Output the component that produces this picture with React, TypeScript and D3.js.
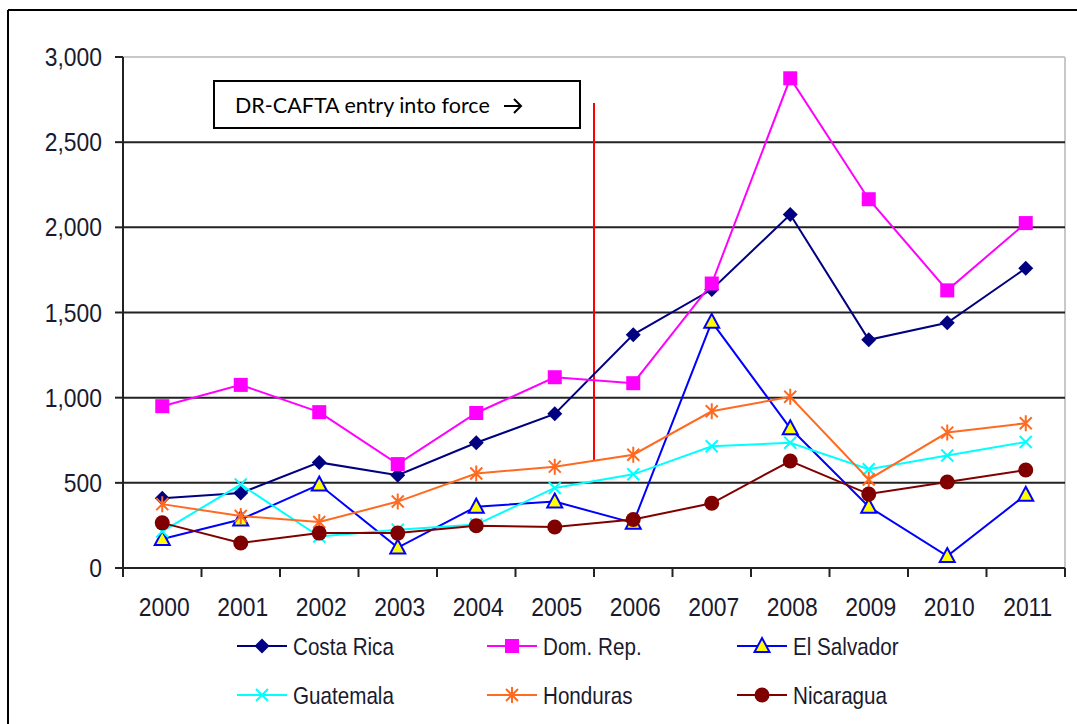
import React from "react";
import * as d3 from "d3";

const years = ["2000", "2001", "2002", "2003", "2004", "2005", "2006", "2007", "2008", "2009", "2010", "2011"];
const costaRica = [410, 440, 620, 545, 735, 905, 1370, 1635, 2075, 1340, 1440, 1760];
const domRep = [950, 1075, 915, 610, 910, 1120, 1085, 1670, 2875, 2165, 1630, 2025];
const elSalvador = [170, 285, 490, 120, 360, 390, 265, 1445, 820, 360, 70, 430];
const guatemala = [215, 490, 185, 225, 255, 470, 550, 715, 735, 580, 660, 740];
const honduras = [375, 305, 270, 390, 555, 595, 665, 920, 1005, 520, 795, 850];
const nicaragua = [265, 147, 205, 205, 248, 241, 285, 380, 628, 434, 505, 575];
const yTicks = [0, 500, 1000, 1500, 2000, 2500, 3000];
const note = "DR-CAFTA entry into force";

const series = [
  { name: "Costa Rica", values: costaRica, color: "#000080", marker: "diamond" },
  { name: "Dom. Rep.", values: domRep, color: "#ff00ff", marker: "square" },
  { name: "El Salvador", values: elSalvador, color: "#0000ff", marker: "triangle" },
  { name: "Guatemala", values: guatemala, color: "#00ffff", marker: "x" },
  { name: "Honduras", values: honduras, color: "#ff6a21", marker: "star" },
  { name: "Nicaragua", values: nicaragua, color: "#800000", marker: "circle" },
];

const W = 1077;
const H = 724;
const plot = { left: 123, right: 1065, top: 57, bottom: 568 };

const x = d3.scaleBand<string>().domain(years).range([plot.left, plot.right]);
const y = d3.scaleLinear().domain([0, 3000]).range([plot.bottom, plot.top]);

const font = "'Liberation Sans', Arial, sans-serif";

// marker drawing, centred on 0,0
function Marker({ type, color }: { type: string; color: string }) {
  if (type === "diamond") {
    return <path d="M0,-7.5 L7.5,0 L0,7.5 L-7.5,0 Z" fill={color} />;
  }
  if (type === "square") {
    return <rect x={-7} y={-7} width={14} height={14} fill={color} />;
  }
  if (type === "triangle") {
    return <path d="M0,-8 L7.5,6 L-7.5,6 Z" fill="#ffff00" stroke={color} strokeWidth={2} />;
  }
  if (type === "x") {
    return <path d="M-6,-6 L6,6 M-6,6 L6,-6" stroke={color} strokeWidth={2} />;
  }
  if (type === "star") {
    return <path d="M-6,-6 L6,6 M-6,6 L6,-6 M0,-8 L0,8" stroke={color} strokeWidth={2} />;
  }
  return <circle r={7.5} fill={color} />;
}

export default function App() {
  const line = d3
    .line<number>()
    .x((d, i) => x(years[i])! + x.bandwidth() / 2)
    .y((d) => y(d));

  const boundaries = d3.range(years.length + 1).map((i) => plot.left + i * x.step());
  const redX = boundaries[6];

  return (
    <svg
      width={W}
      height={H}
      style={{ position: "absolute", left: 0, top: 0, background: "#fff" }}
      fontFamily={font}
    >
      {/* outer frame */}
      <line x1={8} x2={W} y1={10} y2={10} stroke="#000" strokeWidth={2} />
      <line x1={8} x2={8} y1={10} y2={H} stroke="#000" strokeWidth={2} />

      {/* plot border (light) */}
      <line x1={plot.left} x2={plot.right} y1={plot.top} y2={plot.top} stroke="#c8c8c8" strokeWidth={2} />
      <line x1={plot.right} x2={plot.right} y1={plot.top} y2={plot.bottom} stroke="#c8c8c8" strokeWidth={2} />

      {/* gridlines */}
      {yTicks
        .filter((t) => t > 0 && t < 3000)
        .map((t) => (
          <line key={t} x1={plot.left} x2={plot.right} y1={y(t)} y2={y(t)} stroke="#222" strokeWidth={2} />
        ))}

      {/* y axis */}
      <line x1={plot.left} x2={plot.left} y1={plot.top} y2={plot.bottom + 7} stroke="#222" strokeWidth={2} />
      {yTicks.map((t) => (
        <g key={t}>
          <line x1={plot.left - 8} x2={plot.left} y1={y(t)} y2={y(t)} stroke="#222" strokeWidth={2} />
          <text
            transform={`translate(102,${y(t) + 9}) scale(0.88,1)`}
            textAnchor="end"
            fontSize={26}
            fill="#1a1a2e"
          >
            {d3.format(",")(t)}
          </text>
        </g>
      ))}

      {/* x axis */}
      <line x1={plot.left} x2={plot.right} y1={plot.bottom} y2={plot.bottom} stroke="#222" strokeWidth={2} />
      {boundaries.map((b) => (
        <line key={b} x1={b} x2={b} y1={plot.bottom} y2={plot.bottom + 9} stroke="#222" strokeWidth={2} />
      ))}
      {years.map((yr) => (
        <text
          key={yr}
          transform={`translate(${x(yr)! + x.bandwidth() / 2 + 2},616) scale(0.88,1)`}
          textAnchor="middle"
          fontSize={26}
          fill="#1a1a2e"
        >
          {yr}
        </text>
      ))}

      {/* annotation */}
      <rect x={214} y={81} width={366} height={47} fill="#fff" stroke="#000" strokeWidth={2} />
      <text x={235} y={113} fontSize={21.5} fontFamily="Lato, 'Open Sans', sans-serif" fill="#000">
        {note}
      </text>
      {/* arrow after the note */}
      <path d="M504,106 L521,106 M514,99 L521,106 L514,113" fill="none" stroke="#000" strokeWidth={2} />
      <line x1={redX} x2={redX} y1={103} y2={460} stroke="#ff0000" strokeWidth={2} />

      {/* series */}
      {series.map((s) => (
        <g key={s.name}>
          <path d={line(s.values)!} fill="none" stroke={s.color} strokeWidth={2} />
          {s.values.map((v, i) => (
            <g key={i} transform={`translate(${x(years[i])! + x.bandwidth() / 2},${y(v)})`}>
              <Marker type={s.marker} color={s.color} />
            </g>
          ))}
        </g>
      ))}

      {/* legend */}
      {series.map((s, i) => {
        const lx = 237 + (i % 3) * 250;
        const ly = 646 + Math.floor(i / 3) * 49;
        return (
          <g key={s.name}>
            <line x1={lx} x2={lx + 50} y1={ly} y2={ly} stroke={s.color} strokeWidth={2} />
            <g transform={`translate(${lx + 25},${ly})`}>
              <Marker type={s.marker} color={s.color} />
            </g>
            <text
              transform={`translate(${lx + 56},${ly + 9}) scale(0.86,1)`}
              fontSize={24}
              fill="#1a1a2e"
            >
              {s.name}
            </text>
          </g>
        );
      })}
    </svg>
  );
}
